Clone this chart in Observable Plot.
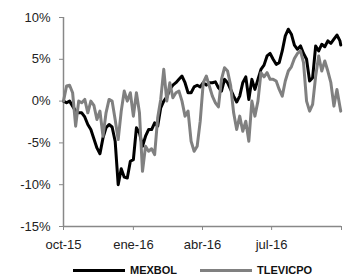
<!DOCTYPE html>
<html><head><meta charset="utf-8">
<script src="https://cdn.jsdelivr.net/npm/d3@7"></script>
<script src="https://cdn.jsdelivr.net/npm/@observablehq/plot@0.6"></script>
<style>
body{margin:0;background:#fff;font-family:"Liberation Sans",Arial,sans-serif;}
#wrap{width:346px;}
.legend{display:flex;align-items:center;height:28px;padding-left:73px;font-weight:bold;font-size:11px;color:#111;}
.legend .sw{display:inline-block;width:52px;height:0;border-top:3px solid;margin-right:5px;}
.legend .item{display:flex;align-items:center;margin-right:23px;}
</style></head>
<body><div id="wrap"></div>
<script>
const dates = ["2015-10-01","2015-10-05","2015-10-09","2015-10-13","2015-10-17","2015-10-21","2015-10-25","2015-10-29",
"2015-11-02","2015-11-06","2015-11-10","2015-11-14","2015-11-18","2015-11-22","2015-11-26","2015-11-30",
"2015-12-04","2015-12-08","2015-12-12","2015-12-16","2015-12-20","2015-12-24","2015-12-28",
"2016-01-01","2016-01-05","2016-01-09","2016-01-13","2016-01-17","2016-01-21","2016-01-25","2016-01-29",
"2016-02-02","2016-02-06","2016-02-10","2016-02-14","2016-02-18","2016-02-22","2016-02-26",
"2016-03-01","2016-03-05","2016-03-09","2016-03-13","2016-03-17","2016-03-21","2016-03-25","2016-03-29",
"2016-04-02","2016-04-06","2016-04-10","2016-04-14","2016-04-18","2016-04-22","2016-04-26","2016-04-30",
"2016-05-04","2016-05-08","2016-05-12","2016-05-16","2016-05-20","2016-05-24","2016-05-28",
"2016-06-01","2016-06-05","2016-06-09","2016-06-13","2016-06-17","2016-06-21","2016-06-25","2016-06-29",
"2016-07-03","2016-07-07","2016-07-11","2016-07-15","2016-07-19","2016-07-23","2016-07-27","2016-07-31",
"2016-08-04","2016-08-08","2016-08-12","2016-08-16","2016-08-20","2016-08-24","2016-08-28",
"2016-09-01","2016-09-05","2016-09-09","2016-09-13","2016-09-17","2016-09-21","2016-09-25","2016-09-29","2016-09-30"];
const mexbol = [0,-0.2,0,-0.6,-1.2,-1.4,-1.4,-1.9,-2.8,-3.4,
-4.5,-5.6,-6.3,-4.4,-3.2,-2.8,-3.1,-4.8,-10.0,-8.1,
-9.1,-9.2,-7.2,-7.0,-3.2,-3.8,-5.4,-4.2,-3.4,-3.4,
-2.6,-3.0,-0.8,0,0.5,1.4,1.9,2.2,2.6,3.0,
2.2,1.0,1.0,1.7,1.9,1.7,2.2,1.9,2.2,2.2,
2.3,1.6,1.2,2.6,2.2,1.4,0.6,-0.1,0.6,2.2,
2.9,0.2,2.6,1.4,2.6,3.8,4.3,5.4,5.7,5.0,
4.4,4.6,6.0,7.8,8.6,8.0,6.7,6.2,6.6,5.7,
5.0,2.4,2.8,6.6,6.0,6.8,6.5,7.2,6.9,7.4,
7.9,7.2,6.7];
const tlevicpo = [0,1.8,1.9,1.0,-3.0,0,-0.2,0.2,-1.4,0,
-0.5,-2.2,-1.2,-4.2,-1.4,0.2,0,-2.2,-4.6,-1.2,
1.2,0,1.0,-1.8,1.0,-1.4,-8.4,-5.4,-6.0,-5.7,
-6.4,-2.0,0.2,3.8,0,2.2,0.4,1.0,1.2,0,
-1.8,-1.2,-4.8,-6.0,-5.4,-2.4,2.2,3.0,1.8,0.6,
-0.2,-0.7,2.6,4.0,3.6,1.9,-1.4,-3.4,-1.8,-3.6,
-2.4,-4.8,0,-1.8,0,3.4,2.9,3.4,2.6,2.6,
2.4,1.4,0.6,2.4,3.6,4.1,5.1,5.7,6.0,4.6,
0,-1.2,-0.4,3.0,5.4,3.6,4.8,3.6,2.2,-0.6,
1.4,-0.7,-1.2];
const seriesNames = ["MEXBOL","TLEVICPO"];
const seriesColors = ["#000000","#808080"];
const yTicks = [-15,-10,-5,0,5,10];
const xTickDates = ["2015-10-01","2016-01-01","2016-04-01","2016-07-01","2016-10-01"];
const xTickLabels = ["oct-15","ene-16","abr-16","jul-16",""];

const parse = s => new Date(s + "T00:00:00Z");
const rows = dates.flatMap((d,i)=>[
  {date: parse(d), v: mexbol[i], s: seriesNames[0]},
  {date: parse(d), v: tlevicpo[i], s: seriesNames[1]}
]);
const xt = xTickDates.map(parse);
const xMin = xt[0], xMax = xt[xt.length-1];

const chart = Plot.plot({
  width: 346, height: 256,
  marginLeft: 63, marginRight: 5, marginTop: 17, marginBottom: 30,
  style: {fontFamily: "'Liberation Sans', Arial, sans-serif", fontSize: "13px", color: "#222", background: "#fff"},
  x: {type: "utc", domain: [xMin, xMax]},
  y: {domain: [-15, 10]},
  marks: [
    Plot.axisY({ticks: yTicks, tickSize: 4, tickPadding: 9, tickFormat: d => d + "%", stroke: "#888", fontSize: 13, label: null}),
    Plot.axisX({ticks: xt, tickSize: 4, tickPadding: 9, tickFormat: d => xTickLabels[xt.findIndex(t=>+t===+d)], stroke: "#888", fontSize: 13, label: null}),
    Plot.ruleX([xMin], {stroke: "#888", strokeWidth: 1.5}),
    Plot.ruleY([-15], {stroke: "#888", strokeWidth: 1.5}),
    Plot.lineY(rows.filter(r=>r.s===seriesNames[0]), {x: "date", y: "v", stroke: seriesColors[0], strokeWidth: 3, strokeLinejoin: "round"}),
    Plot.lineY(rows.filter(r=>r.s===seriesNames[1]), {x: "date", y: "v", stroke: seriesColors[1], strokeWidth: 3, strokeLinejoin: "round"})
  ]
});
const wrap = document.getElementById("wrap");
wrap.appendChild(chart);
const lg = document.createElement("div");
lg.className = "legend";
seriesNames.forEach((n,i)=>{
  const it = document.createElement("span"); it.className="item";
  const sw = document.createElement("span"); sw.className="sw"; sw.style.borderColor = seriesColors[i];
  it.appendChild(sw); it.appendChild(document.createTextNode(n));
  lg.appendChild(it);
});
wrap.appendChild(lg);
</script></body></html>
